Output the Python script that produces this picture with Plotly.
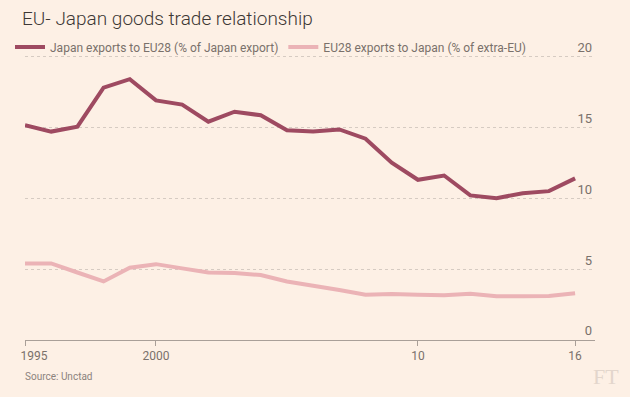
import plotly.graph_objects as go

years = list(range(1995, 2017))
japan_to_eu = [15.15, 14.7, 15.05, 17.8, 18.4, 16.9, 16.6, 15.4, 16.1, 15.85,
               14.8, 14.7, 14.85, 14.2, 12.5, 11.3, 11.6, 10.2, 10.0, 10.35, 10.5, 11.4]
eu_to_japan = [5.4, 5.4, 4.76, 4.13, 5.1, 5.35, 5.05, 4.76, 4.72, 4.58,
               4.13, 3.85, 3.53, 3.2, 3.25, 3.2, 3.15, 3.27, 3.08, 3.08, 3.1, 3.3]
series_names = ["Japan exports to EU28 (% of Japan export)",
                "EU28 exports to Japan (% of extra-EU)"]
x_tickvals = [1995, 2000, 2010, 2016]
x_ticktext = ["\u00a0\u00a0\u00a0\u00a0\u00a0\u00a01995", "2000", "10", "16"]
y_tickvals = [0, 5, 10, 15, 20]

BG = "#fdf0e5"
FONT = "Roboto, Liberation Sans, sans-serif"
GREY = "#7a716b"

fig = go.Figure()
fig.add_trace(go.Scatter(x=years, y=japan_to_eu, mode="lines", name=series_names[0],
                         line=dict(color="#9e4a61", width=4)))
fig.add_trace(go.Scatter(x=years, y=eu_to_japan, mode="lines", name=series_names[1],
                         line=dict(color="#ebb3b6", width=4)))

PH = 302
fig.update_layout(
    width=630, height=397,
    paper_bgcolor=BG, plot_bgcolor=BG,
    margin=dict(l=25, r=35, t=38, b=57, autoexpand=False),
    font=dict(family=FONT, color=GREY, size=12),
    title=dict(text="EU- Japan goods trade relationship", x=22/630, xref="container",
               y=1 - 18/397, yref="container", xanchor="left", yanchor="middle",
               font=dict(family=FONT, size=19, color="#3d3835", weight=300)),
    legend=dict(orientation="h", x=10/630, xref="container", xanchor="left",
                y=1 - 47/397, yref="container", yanchor="middle",
                font=dict(family=FONT, size=12, color=GREY), bgcolor="rgba(0,0,0,0)"),
    showlegend=True,
    xaxis=dict(range=[1995, 2016.76], tickvals=x_tickvals, ticktext=x_ticktext,
               showgrid=False, zeroline=False, showline=True, linecolor="#a99f98", linewidth=1,
               ticks="outside", ticklen=5, tickcolor="#a99f98",
               tickfont=dict(size=12, color=GREY)),
    yaxis=dict(range=[0, 21.3], side="right", tickvals=y_tickvals, ticklabelposition="inside top",
               showgrid=True, gridcolor="#d6cbc2", griddash="dot", gridwidth=1,
               zeroline=False, showline=False, ticks="",
               tickfont=dict(size=13, color=GREY)),
)

fig.add_annotation(text="Source: Unctad", xref="paper", yref="paper",
                   x=-2/570, y=-36/PH, xanchor="left", yanchor="middle", showarrow=False,
                   font=dict(family=FONT, size=10, color="#8c837d"))
fig.add_annotation(text="FT", xref="paper", yref="paper",
                   x=1 + 26/570, y=-36/PH, xanchor="right", yanchor="middle", showarrow=False,
                   font=dict(family="Liberation Serif, serif", size=22, color="#e3d6cc"))

fig.write_html("out.html", config={"displayModeBar": False},
               post_script="document.body.style.margin='0';")
